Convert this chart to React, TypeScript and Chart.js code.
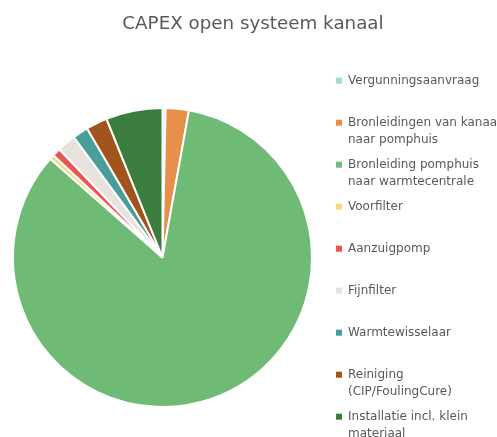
import React, { useEffect, useRef } from "react";
import { Chart, registerables } from "chart.js";

Chart.register(...registerables);

const title = "CAPEX open systeem kanaal";

const categories = [
  "Vergunningsaanvraag",
  "Bronleidingen van kanaal naar pomphuis",
  "Bronleiding pomphuis naar warmtecentrale",
  "Voorfilter",
  "Aanzuigpomp",
  "Fijnfilter",
  "Warmtewisselaar",
  "Reiniging (CIP/FoulingCure)",
  "Installatie incl. klein materiaal",
];

const legendLines = [
  ["Vergunningsaanvraag", ""],
  ["Bronleidingen van kanaal", "naar pomphuis"],
  ["Bronleiding pomphuis", "naar warmtecentrale"],
  ["Voorfilter", ""],
  ["Aanzuigpomp", ""],
  ["Fijnfilter", ""],
  ["Warmtewisselaar", ""],
  ["Reiniging", "(CIP/FoulingCure)"],
  ["Installatie incl. klein", "materiaal"],
];

const values = [0.33, 2.5, 83.5, 0.5, 0.9, 2.0, 1.7, 2.3, 6.1];

const colors = [
  "#A9D9D6",
  "#E6904C",
  "#6FBA75",
  "#F9D77A",
  "#EA5652",
  "#E7E2DE",
  "#4A9D98",
  "#A2541D",
  "#3A7D3E",
];

export default function App() {
  const ref = useRef<HTMLCanvasElement | null>(null);

  useEffect(() => {
    if (!ref.current) return;
    const chart = new Chart(ref.current, {
      type: "pie",
      data: {
        labels: categories,
        datasets: [
          {
            data: values,
            backgroundColor: colors,
            borderColor: "#ffffff",
            borderWidth: 2,
            radius: 149.5,
          } as any,
        ],
      },
      options: {
        responsive: false,
        animation: false,
        layout: { padding: 0 },
        plugins: {
          tooltip: { enabled: false },
          title: {
            display: true,
            text: title,
            color: "#595959",
            font: { family: "DejaVu Sans", size: 18.3, weight: "normal", lineHeight: 1.2 },
            padding: { top: 13, bottom: 9.04 },
          },
          legend: {
            position: "right",
            align: "start",
            maxWidth: 181,
            title: {
              display: true,
              text: "",
              font: { size: 10, lineHeight: 1 },
              padding: { top: 56.7, bottom: 0 },
            },
            labels: {
              boxWidth: 6,
              boxHeight: 6,
              padding: 8,
              color: "#595959",
              font: { family: "DejaVu Sans", size: 12, lineHeight: 17 / 12 },
              generateLabels: (c: any) => {
                const base = (Chart as any).overrides.pie.plugins.legend.labels.generateLabels(c);
                return base.map((l: any, i: number) => ({
                  ...l,
                  text: legendLines[i],
                  lineWidth: 0,
                  strokeStyle: "rgba(0,0,0,0)",
                }));
              },
            },
          },
        },
      } as any,
    });
    return () => chart.destroy();
  }, []);

  return (
    <div
      style={{
        position: "fixed",
        top: 0,
        left: 0,
        width: 497,
        height: 437,
        overflow: "hidden",
        background: "#ffffff",
      }}
    >
      <canvas
        ref={ref}
        width={512}
        height={471}
        style={{ display: "block", position: "absolute", left: -3, top: 0 }}
      />
    </div>
  );
}
